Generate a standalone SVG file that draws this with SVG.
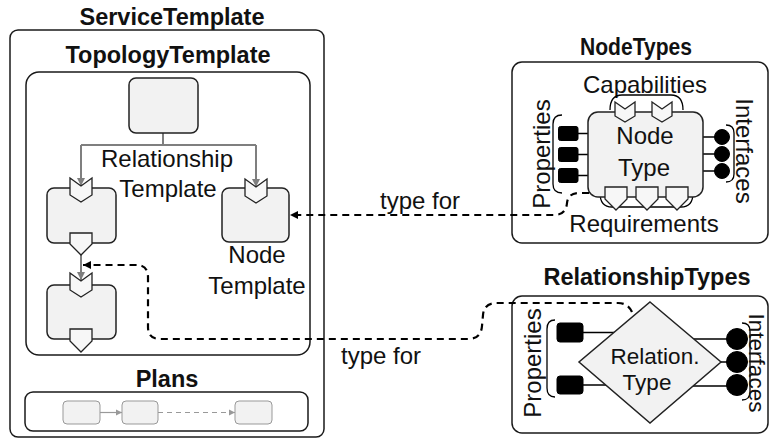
<svg xmlns="http://www.w3.org/2000/svg" width="771" height="439" viewBox="0 0 771 439">
  <defs>
    <style>
      text { font-family: "Liberation Sans", Arial, sans-serif; fill: #111; }
      .title { font-size: 23.5px; font-weight: bold; text-anchor: middle; }
      .lbl { font-size: 24px; text-anchor: middle; }
      .small { font-size: 22.5px; }
      .frame { fill: #fff; stroke: #1a1a1a; stroke-width: 1.5; }
      .node { fill: #f2f2f2; stroke: #222; stroke-width: 1.5; }
      .port { fill: #f7f7f7; stroke: #222; stroke-width: 1.3; stroke-linejoin: miter; }
      .solid { fill: #000; stroke: #000; stroke-width: 1; }
      .wire { fill: none; stroke: #000; stroke-width: 1.6; }
      .brace { fill: none; stroke: #000; stroke-width: 1.3; }
      .rel { fill: none; stroke: #7f7f7f; stroke-width: 2; }
      .dash { fill: none; stroke: #000; stroke-width: 2.2; stroke-dasharray: 7 5; }
      .plan { fill: #f2f2f2; stroke: #999; stroke-width: 1; }
      .planline { fill: none; stroke: #999; stroke-width: 1.2; }
    </style>
    <marker id="arrowBlack" viewBox="0 0 10 10" refX="10" refY="5" markerWidth="8" markerHeight="10" markerUnits="userSpaceOnUse" orient="auto">
      <path d="M0,0 L10,5 L0,10 z" fill="#000"/>
    </marker>
    <marker id="arrowGray" viewBox="0 0 10 10" refX="10" refY="5" markerWidth="8" markerHeight="10" markerUnits="userSpaceOnUse" orient="auto">
      <path d="M0,0 L10,5 L0,10 z" fill="#7f7f7f"/>
    </marker>
    <marker id="arrowPlan" viewBox="0 0 10 10" refX="10" refY="5" markerWidth="6" markerHeight="7" markerUnits="userSpaceOnUse" orient="auto">
      <path d="M0,0 L10,5 L0,10 z" fill="#999"/>
    </marker>
  </defs>

  <!-- Service template container -->
  <g id="service-template">
    <text class="title" x="172" y="25">ServiceTemplate</text>
    <rect class="frame" x="10" y="30" width="314" height="407" rx="8"/>
  </g>

  <!-- Topology template container -->
  <g id="topology-template">
    <text class="title" x="168" y="63" textLength="205" lengthAdjust="spacingAndGlyphs">TopologyTemplate</text>
    <rect class="frame" x="26" y="72" width="284" height="283" rx="13"/>
  </g>

  <!-- Relationship template connectors -->
  <g id="relationship-template">
    <path class="rel" d="M163 133 V145 M81 145 H256" />
    <path class="rel" d="M81 145 V186" marker-end="url(#arrowGray)"/>
    <path class="rel" d="M256 145 V187" marker-end="url(#arrowGray)"/>
    <path class="rel" d="M81 255 V280" marker-end="url(#arrowGray)"/>
    <text class="lbl" x="167" y="167">Relationship</text>
    <text class="lbl" x="168" y="197">Template</text>
  </g>

  <!-- Node templates -->
  <g id="node-template-top">
    <rect class="node" x="129" y="78" width="69" height="55" rx="7"/>
  </g>

  <g id="node-template-a">
    <rect class="node" x="47" y="188" width="69" height="55" rx="7"/>
    <path class="port" d="M70 178 L81 186 L92 178 V195 L81 202 L70 195 Z"/>
    <path class="port" d="M70 233 H92 V244 L81 255 L70 244 Z"/>
  </g>

  <g id="node-template-b">
    <rect class="node" x="47" y="285" width="69" height="54" rx="7"/>
    <path class="port" d="M70 273 L81 281 L92 273 V290 L81 297 L70 290 Z"/>
    <path class="port" d="M70 329 H92 V341 L81 352 L70 341 Z"/>
  </g>

  <g id="node-template-c">
    <rect class="node" x="222" y="188" width="67" height="54" rx="7"/>
    <path class="port" d="M245 179 L256 187 L267 179 V196 L256 203 L245 196 Z"/>
    <text class="lbl" x="257" y="263">Node</text>
    <text class="lbl" x="257" y="294">Template</text>
  </g>

  <!-- Plans -->
  <g id="plans">
    <text class="title" x="167" y="387">Plans</text>
    <rect class="frame" x="25" y="392" width="283" height="39" rx="8"/>
    <rect class="plan" x="63" y="401" width="37" height="23" rx="4"/>
    <rect class="plan" x="122" y="401" width="36" height="23" rx="4"/>
    <rect class="plan" x="235" y="401" width="37" height="23" rx="4"/>
    <path class="planline" d="M100 412.5 H122" marker-end="url(#arrowPlan)"/>
    <path class="planline" d="M158 412.5 H235" stroke-dasharray="5 4" marker-end="url(#arrowPlan)"/>
  </g>

  <!-- Node types -->
  <g id="node-types">
    <text class="title" x="636" y="55" textLength="112" lengthAdjust="spacingAndGlyphs">NodeTypes</text>
    <rect class="frame" x="512" y="62" width="256" height="181" rx="10"/>
    <text class="lbl" x="645" y="93">Capabilities</text>
    <path class="brace" d="M610 110 Q610 95 622 95 H671 Q683 95 683 110"/>
    <path class="brace" d="M562 115 Q553 115 553 124 V184 Q553 193 562 193"/>
    <path class="brace" d="M726 125 Q734 125 734 133 V174 Q734 182 726 182"/>
    <path class="brace" d="M600 193 Q600 207 612 207 H681 Q693 207 693 193"/>
    <path class="wire" d="M578 133.5 H588 M578 154.5 H588 M578 175.5 H588"/>
    <path class="wire" d="M703 137 H715 M703 154 H715 M703 171 H715"/>
    <rect class="node" x="588" y="112" width="115" height="85" rx="10"/>
    <path class="port" d="M615 102 L625 109 L635 102 V116 L625 122 L615 116 Z"/>
    <path class="port" d="M652 102 L662 109 L672 102 V116 L662 122 L652 116 Z"/>
    <path class="port" d="M605 187 H627 V199 L616 210 L605 199 Z"/>
    <path class="port" d="M636 187 H658 V199 L647 210 L636 199 Z"/>
    <path class="port" d="M666 187 H688 V199 L677 210 L666 199 Z"/>
    <rect class="solid" x="558.5" y="126.5" width="19.5" height="14" rx="2"/>
    <rect class="solid" x="558.5" y="147.5" width="19.5" height="14" rx="2"/>
    <rect class="solid" x="558.5" y="168.5" width="19.5" height="14" rx="2"/>
    <circle class="solid" cx="722" cy="137" r="7.5"/>
    <circle class="solid" cx="722" cy="154" r="7.5"/>
    <circle class="solid" cx="722" cy="171" r="7.5"/>
    <text class="lbl" x="645" y="144">Node</text>
    <text class="lbl" x="644" y="176">Type</text>
    <text class="lbl" transform="translate(550 154) rotate(-90)" x="0" y="0">Properties</text>
    <text class="lbl" transform="translate(736 151) rotate(90)" x="0" y="0">Interfaces</text>
    <text class="lbl" x="644" y="232">Requirements</text>
  </g>

  <!-- Relationship types -->
  <g id="relationship-types">
    <text class="title" x="647" y="285">RelationshipTypes</text>
    <rect class="frame" x="512" y="296" width="256" height="137" rx="10"/>
    <path class="brace" d="M555 320 Q547 320 547 329 V388 Q547 397 555 397"/>
    <path class="brace" d="M742 323 Q750 323 750 331 V392 Q750 400 742 400"/>
    <path class="wire" d="M583 332.5 H620 M583 385 H612"/>
    <path class="wire" d="M688 339 H730 M715 362 H730 M688 386 H730"/>
    <path class="node" d="M650 302 L721 362 L650 423 L579 362 Z"/>
    <rect class="solid" x="557" y="323" width="26" height="19" rx="3"/>
    <rect class="solid" x="557" y="376" width="26" height="18" rx="3"/>
    <circle class="solid" cx="737" cy="339" r="10.5"/>
    <circle class="solid" cx="737" cy="362" r="10.5"/>
    <circle class="solid" cx="737" cy="385" r="10.5"/>
    <text class="lbl small" x="655" y="364">Relation.</text>
    <text class="lbl small" x="647" y="390">Type</text>
    <text class="lbl" transform="translate(541 363) rotate(-90)" x="0" y="0">Properties</text>
    <text class="lbl small" transform="translate(749 363) rotate(90)" x="0" y="0">Interfaces</text>
  </g>

  <!-- "type for" links from the type definitions to the templates -->
  <g id="connectors">
    <path class="dash" d="M589 193 H579 Q568 193 567 203 Q566 215 554 215 H290" marker-end="url(#arrowBlack)"/>
    <text class="lbl" x="420" y="209">type for</text>
    <path class="dash" d="M632 312 Q628 303 618 303 H497 Q484 303 483 315 L482 326 Q481 339 468 339 H160 Q148 339 148 327 V277 Q148 265 136 265 H83" marker-end="url(#arrowBlack)"/>
    <text class="lbl" x="381" y="364">type for</text>
  </g>
</svg>
